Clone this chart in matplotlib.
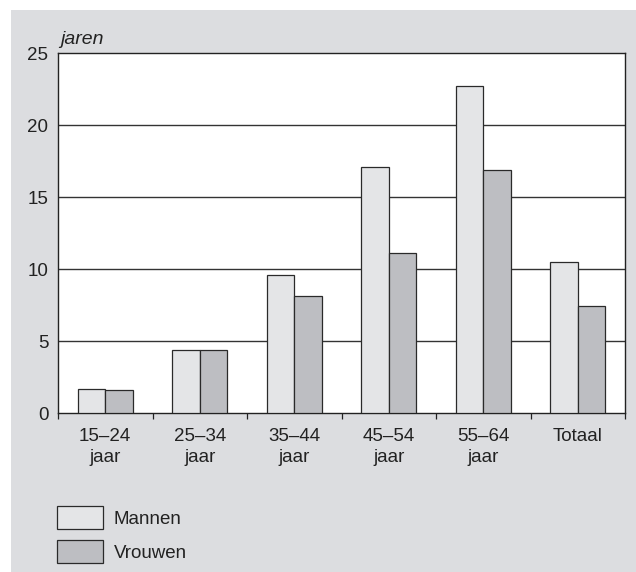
import matplotlib.pyplot as plt
import matplotlib.patches as mpatches
import numpy as np

categories = ["15\u201324\njaar", "25\u201334\njaar", "35\u201344\njaar",
              "45\u201354\njaar", "55\u201364\njaar", "Totaal"]
mannen = [1.7, 4.4, 9.6, 17.1, 22.7, 10.5]
vrouwen = [1.6, 4.4, 8.1, 11.1, 16.9, 7.4]
yticks = [0, 5, 10, 15, 20, 25]

plt.rcParams['font.family'] = ['Liberation Sans', 'DejaVu Sans']
FS = 13.5

fig = plt.figure(figsize=(6.36, 5.72), dpi=100)
fig.patch.set_facecolor('white')
# grey panel behind everything
fig.patches.append(mpatches.Rectangle((11/636, 0), 1 - 11/636, 1 - 10/572,
                                      transform=fig.transFigure, facecolor='#dcdde0',
                                      edgecolor='none', zorder=-10))

ax = fig.add_axes([58/636, 1 - 413/572, (625 - 58)/636, (413 - 53)/572])
ax.set_facecolor('white')

x = np.arange(len(categories))
w = 0.29
ax.bar(x - w/2, mannen, w, color='#e4e5e7', edgecolor='#2a2a2a', linewidth=0.9,
       label='Mannen', zorder=3)
ax.bar(x + w/2, vrouwen, w, color='#bdbec2', edgecolor='#2a2a2a', linewidth=0.9,
       label='Vrouwen', zorder=3)

ax.set_xlim(-0.5, len(categories) - 0.5)
ax.set_ylim(0, 25)
ax.set_yticks(yticks)
ax.tick_params(axis='y', length=0, pad=7, labelsize=FS, colors='#222222')
for v in yticks[1:-1]:
    ax.axhline(v, color='#333333', linewidth=1.0, zorder=1)

# ticks on the group borders, labels on the centres
ax.set_xticks(np.arange(-0.5, len(categories), 1.0))
ax.set_xticklabels([])
ax.tick_params(axis='x', which='major', direction='out', length=4.5, width=0.9,
               color='#222222')
ax.set_xticks(x, minor=True)
ax.set_xticklabels(categories, minor=True, fontsize=FS, color='#222222',
                   linespacing=1.25)
ax.tick_params(axis='x', which='minor', length=0, pad=11)

for s in ax.spines.values():
    s.set_color('#222222')
    s.set_linewidth(1.0)

fig.text(60/636, 1 - 44/572, 'jaren', fontsize=14, style='italic', color='#222222')

# legend drawn by hand
for i, (lab, col) in enumerate([('Mannen', '#e4e5e7'), ('Vrouwen', '#bdbec2')]):
    y0 = 1 - (529 + i*34)/572
    fig.patches.append(mpatches.Rectangle((57/636, y0), 46/636, 23/572,
                                          transform=fig.transFigure, facecolor=col,
                                          edgecolor='#2a2a2a', linewidth=0.9))
    fig.text(114/636, y0 + 10/572, lab, fontsize=FS, va='center', color='#222222')

plt.savefig('out.png', dpi=100, facecolor=fig.get_facecolor())
